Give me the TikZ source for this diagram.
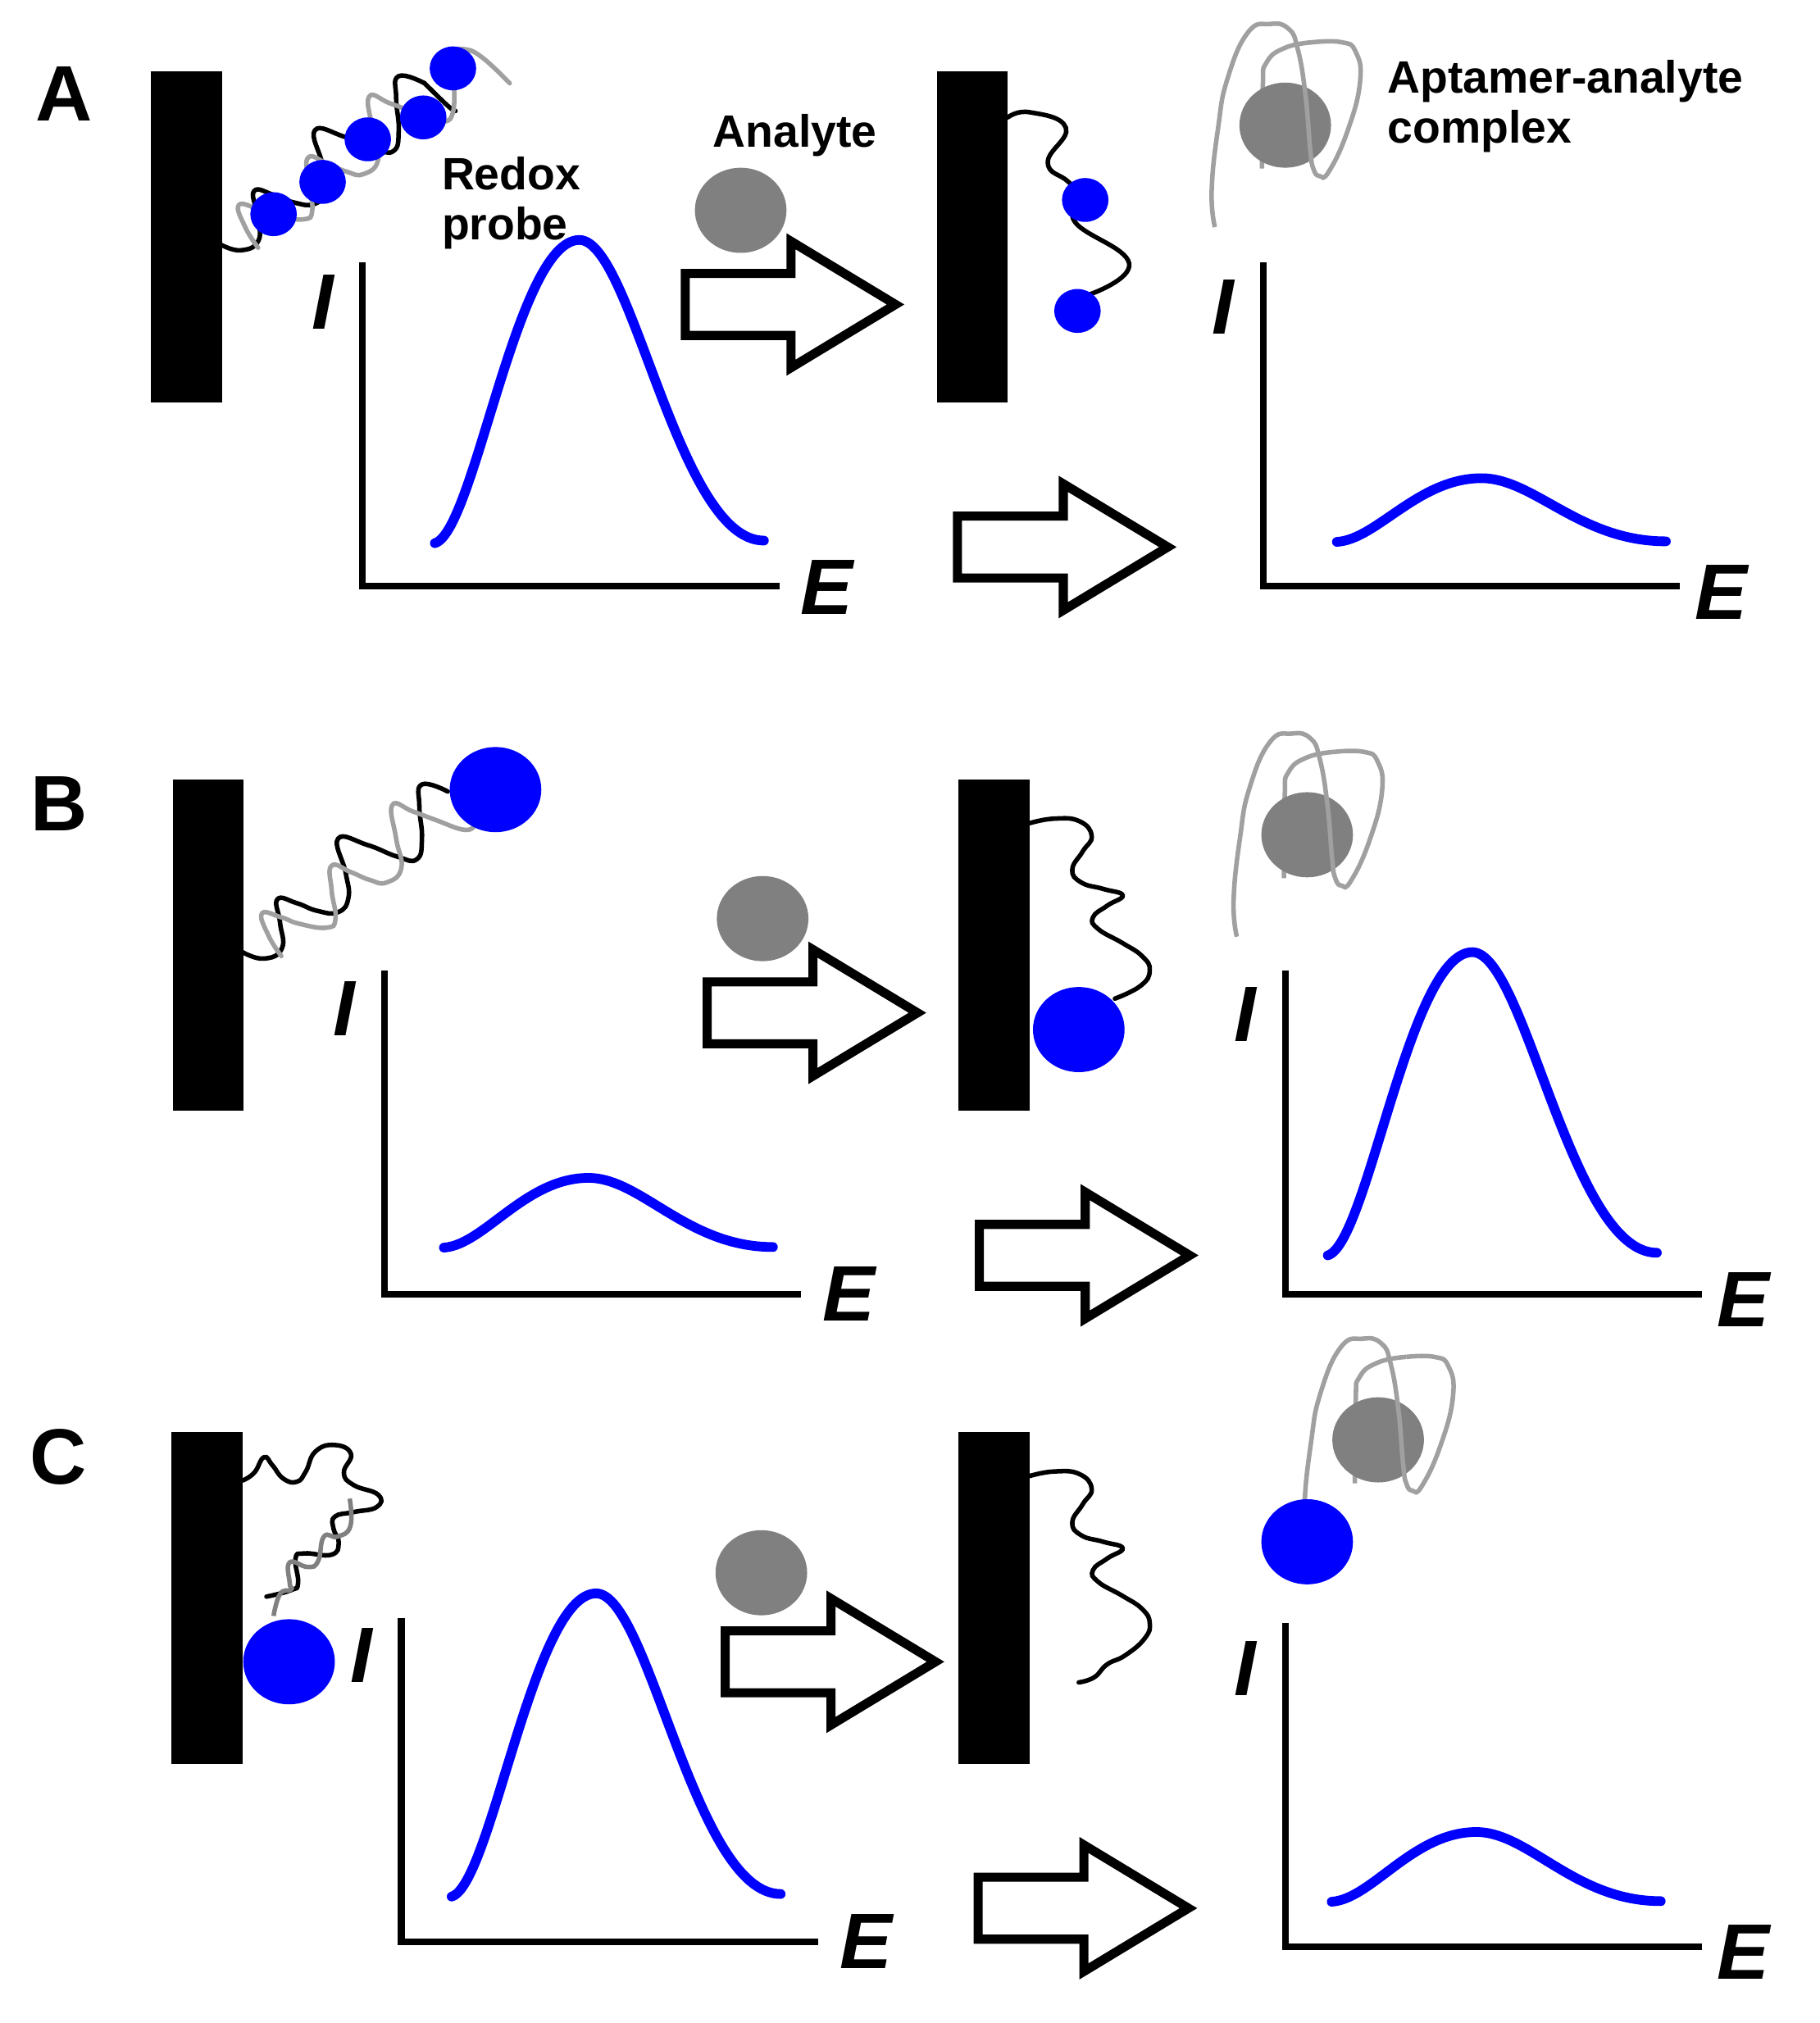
\documentclass[tikz,border=0pt]{standalone}
\usepackage{fontspec}
\setmainfont{Liberation Sans}
\usepackage{tikz}
\usetikzlibrary{positioning, calc}
\definecolor{ProbeColor}{RGB}{0,0,255}
\definecolor{AnalyteColor}{RGB}{128,128,128}
\definecolor{StrandColor}{RGB}{160,160,160}
\tikzstyle{electrode} = [rectangle, fill=black]
\tikzstyle{axis} = [line width=2.2pt, black, line cap=butt, line join=miter]
\tikzstyle{signalcurve} = [line width=3.2pt, ProbeColor, line cap=round]
\tikzstyle{blockarrow} = [line width=3pt, black, fill=white, line join=miter]
\tikzset{
  darkstrand/.style={line width=1.5pt, black, line cap=round},
  greystrand/.style={line width=1.5pt, StrandColor, line cap=round},
  analyte/.style={fill=AnalyteColor},
  probe/.style={fill=ProbeColor},
  panelletter/.style={font=\fontsize{26}{26}\selectfont\bfseries},
  caption/.style={font=\fontsize{15}{16.6}\selectfont\bfseries, align=left, anchor=base west},
  axislabel/.style={font=\fontsize{26}{26}\selectfont\bfseries\itshape}
}
% x,y are in the units of a 1410 x 1568 page, y going down
\newcommand{\blockarrow}[2]{\draw[blockarrow, shift={(#1,#2)}] (0,-24) -- (82,-24) -- (82,-49) -- (163,0) -- (82,49) -- (82,24) -- (0,24) -- cycle;}
\newcommand{\signal}[3]{\draw[signalcurve, shift={(#1,#2)}, yscale=#3] (0,0) .. controls (31,-9) and (63,-235) .. (112,-235) .. controls (153,-235) and (188,-2) .. (255,-2);}
\newcommand{\duplexpair}{
  \draw[darkstrand] plot[smooth, tension=0.8] coordinates {(188,738) (204.5,743) (218.5,735) (217,715) (215,697) (230,700) (246,706) (262,707) (270,696) (268,677) (262,650) (285,655) (308,664) (323,666) (327,650) (325,625) (327,608) (347,613.5)};
  \draw[greystrand] plot[smooth, tension=0.8] coordinates {(218,741) (208,725) (203,708) (218,711) (232,716) (253,719) (260,712) (257,690) (257,671) (272,676) (286.5,682) (299.5,684) (311,673) (307,650) (304,624) (320,629) (337.5,635.5) (358.5,643) (367,641)};
}
\newcommand{\aptamerloop}[2]{
  \begin{scope}[shift={(#1,#2)}]
    \draw[greystrand, line cap=butt] plot[smooth, tension=0.8] coordinates {(21.8,-64.3) (0,-60) (-14.5,-48.5) (-17.4,-29.5) (-18,33.7)};
    \fill[analyte] (0,0) ellipse (35.5 and 33);
    \draw[greystrand, line cap=butt] plot[smooth, tension=0.8] coordinates {(-54.5,79) (-57,50.6) (-52,2) (-44.8,-35.8) (-29,-71.7) (-12,-78.4) (2.4,-74.8) (9.7,-59) (15.7,-23.2) (19.4,19) (21.8,33.7) (26.6,39.4) (33.9,35.8) (48.4,4.2) (58,-33.7) (54.5,-57) (43.6,-64.3) (21.8,-64.3)};
  \end{scope}
}

\begin{document}
\begin{tikzpicture}[x=0.015cm, y=-0.015cm]
  \useasboundingbox (0,0) rectangle (1410,1568);

  % Electrodes
  \foreach \ex/\ey in {117/55, 726/55, 134/604, 743/604, 133/1110, 743/1110}
    \fill[electrode] (\ex,\ey) rectangle ++(55,257);

  % Axes with their labels
  \foreach \ox/\oy/\ix/\iy/\ex/\ey/\nm in {281/454/250/234/641/455/a, 979/454/948/238/1334/459/b, 298/1003/267/782/658/1003/c, 996/1003/965/786/1351/1007/d, 311/1505/280/1283/671/1505/e, 996/1509/965/1293/1351/1513/f} {
    \draw[axis] (\ox,\oy-251) -- (\ox,\oy) -- (\ox+323,\oy);
    \node[axislabel] (I\nm) at (\ix,\iy) {I};
    \node[axislabel] (E\nm) at (\ex,\ey) {E};
  }

  % Voltammetric peaks
  \signal{337}{421}{1}
  \signal{1036}{420}{0.21}
  \signal{344}{967}{0.23}
  \signal{1029}{973}{1}
  \signal{350}{1470}{1}
  \signal{1032}{1474}{0.23}

  % Block arrows
  \blockarrow{531}{236}
  \blockarrow{742}{424}
  \blockarrow{548}{785}
  \blockarrow{759}{973}
  \blockarrow{562}{1288}
  \blockarrow{758}{1479}

  % Free analyte
  \foreach \ax/\ay in {574/163, 591/712, 590/1219}
    \fill[analyte] (\ax,\ay) ellipse (35.5 and 33);

  % Panel A, left
  \begin{scope}[shift={(-18,-549)}]
    \duplexpair
  \end{scope}
  \draw[darkstrand] plot[smooth, tension=0.8] coordinates {(329,64.5) (347,82) (353,86)};
  \draw[greystrand] plot[smooth, tension=0.8] coordinates {(349,92) (352,80) (351,53)};
  \draw[greystrand] plot[smooth, tension=0.8] coordinates {(351,40) (359,38) (373,44) (395,64.5)};
  \foreach \px/\py in {212/166, 250/141, 285/108, 328/91, 351/53}
    \fill[probe] (\px,\py) ellipse (18 and 17);

  % Panel A, right
  \draw[darkstrand] plot[smooth, tension=0.8] coordinates {(781,91) (798,87) (826,99) (812,126) (828,141) (841,155) (833,172) (875,204) (845,228)};
  \foreach \px/\py in {841/155, 835/241}
    \fill[probe] (\px,\py) ellipse (18 and 17);
  \aptamerloop{996}{97}

  % Panel B, left
  \duplexpair
  \fill[probe] (384,612) ellipse (35.5 and 33);

  % Panel B, right
  \draw[darkstrand] plot[smooth, tension=0.8] coordinates {(798,638) (817,634.5) (836.5,636.5) (846,648) (839,660) (831,674) (838,684) (855,689) (870,694) (858,702) (847,711) (851,720) (870,731) (885,741) (891,752) (884,764) (864,774)};
  \fill[probe] (836,798) ellipse (35.5 and 33);
  \aptamerloop{1013}{647}

  % Panel C, left
  \draw[darkstrand] plot[smooth, tension=0.8] coordinates {(188,1147.5) (197,1141.5) (204.5,1129.5) (211,1135.5) (219.5,1146) (230,1148.5) (237,1140.5) (244.5,1125) (259.5,1120) (272,1127) (266.5,1141.5) (274,1151) (293,1158.5) (292,1168) (274,1172) (259.5,1175.5) (258.5,1185) (262.5,1195.5) (257,1205) (236,1204) (229,1208) (231,1227) (225.5,1232.5) (206.5,1237.5)};
  \draw[line width=1.5pt, AnalyteColor] plot[smooth, tension=0.8] coordinates {(271,1161.5) (271.5,1183) (261.5,1191) (251,1191) (246.5,1210) (238.5,1214.5) (224.5,1211) (224.5,1227) (225.5,1232) (217,1235.5) (212,1252.5)};
  \fill[probe] (224,1288) ellipse (35.5 and 33);

  % Panel C, right
  \draw[darkstrand] plot[smooth, tension=0.8] coordinates {(798,1144) (817,1140.5) (836.5,1142.5) (846,1154) (839,1166) (831,1180) (838,1190) (855,1195) (870,1200) (858,1208) (847,1217) (851,1226) (870,1237) (885,1247) (891,1258) (887,1270) (872,1283) (858,1290) (848,1300) (836,1304)};
  \aptamerloop{1068}{1116}
  \fill[probe] (1013,1195) ellipse (35.5 and 33);

  % Text
  \node[panelletter] (letterA) at (49.5,73) {A};
  \node[panelletter] (letterB) at (46,623) {B};
  \node[panelletter] (letterC) at (45,1129) {C};
  \node[caption, inner sep=0pt] (redoxprobe) at (342,186) {Redox\\probe};
  \node[caption, inner sep=0pt] (analytetext) at (552,114) {Analyte};
  \node[caption, inner sep=0pt] (complextext) at (1075,111) {Aptamer-analyte\\complex};
\end{tikzpicture}
\end{document}
